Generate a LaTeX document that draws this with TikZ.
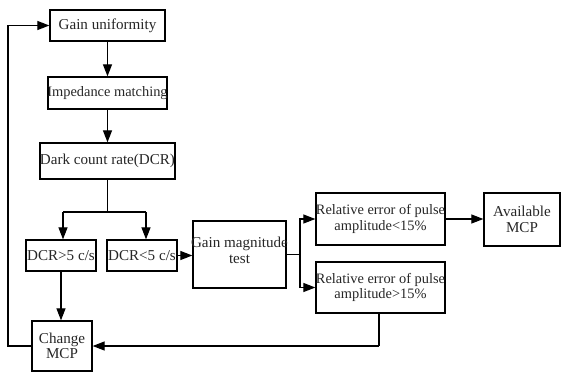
\documentclass[tikz,border=0pt]{standalone}
\usepackage{fontspec}
\setmainfont{Liberation Serif}
\usetikzlibrary{arrows.meta}
\newcommand\zw[1]{\makebox[0pt]{#1}}
\begin{document}
\begin{tikzpicture}[x=1pt,y=-1pt,
  box/.style={draw, line width=1.3pt, inner sep=0pt, align=center,
    font=\fontsize{15.1}{15.5}\selectfont, text=black!85},
  tight/.style={font=\fontsize{14.4}{15.5}\selectfont},
  conn/.style={line width=1.2pt},
  arr/.style={conn, -{Triangle[length=12pt,width=9pt]}}]
\useasboundingbox (0,0) rectangle (561,372);
\node[box, minimum width=115pt, minimum height=31pt] (gu) at (107.5,25.5) {\zw{Gain uniformity}};
\node[box, tight, minimum width=119pt, minimum height=32pt] (im) at (107.5,93) {\zw{Impedance matching}};
\node[box, minimum width=135pt, minimum height=36pt] (dcr) at (107.5,161) {\zw{Dark count rate(DCR)}};
\node[box, minimum width=70pt, minimum height=31pt] (g5) at (61,255.5) {\zw{DCR>5 c/s}};
\node[box, minimum width=70pt, minimum height=31pt] (l5) at (142,255.5) {\zw{DCR<5 c/s}};
\node[box, minimum width=93pt, minimum height=67pt] (gm) at (239.5,254.5) {};
\node[box, draw=none, anchor=center] (gmt) at (239.5,250.5) {\zw{Gain magnitude}\\\zw{test}};
\node[box, tight, minimum width=129pt, minimum height=52pt] (r1) at (380.5,219) {\zw{Relative error of pulse}\\\zw{amplitude<15\%}};
\node[box, tight, minimum width=129pt, minimum height=51pt] (r2) at (380.5,287.5) {\zw{Relative error of pulse}\\\zw{amplitude>15\%}};
\node[box, minimum width=76pt, minimum height=53pt] (av) at (522,219.5) {\zw{Available}\\\zw{MCP}};
\node[box, minimum width=60pt, minimum height=50pt] (ch) at (62,346) {\zw{Change}\\\zw{MCP}};
\coordinate (fork) at (107.5,212);
\coordinate (fl) at (63,212);
\coordinate (fr) at (146,212);
\coordinate (sp) at (300,254.5);
\coordinate (loop) at (8,346);
\coordinate (back) at (379,346);
\draw[arr] (gu) -- (im);
\draw[arr] (im) -- (dcr);
\draw[conn] (dcr.south) -- (fork);
\draw[conn] (fl) -- (fr);
\draw[arr] (fl) -- (fl |- g5.north);
\draw[arr] (fr) -- (fr |- l5.north);
\draw[arr] (l5.east) -- (l5.east -| gm.west);
\draw[conn] (gm.east |- sp) -- (sp);
\draw[arr] (sp) |- (r1.west);
\draw[arr] (sp) |- (r2.west);
\draw[arr] (r1.east) -- (av.west |- r1.east);
\draw[conn] (back |- r2.south) -- (back);
\draw[arr] (back) -- (ch.east);
\draw[arr] (g5.south -| 61,0) -- (ch.north -| 61,0);
\draw[arr] (ch.west) -- (loop) |- (gu.west);
\end{tikzpicture}
\end{document}
